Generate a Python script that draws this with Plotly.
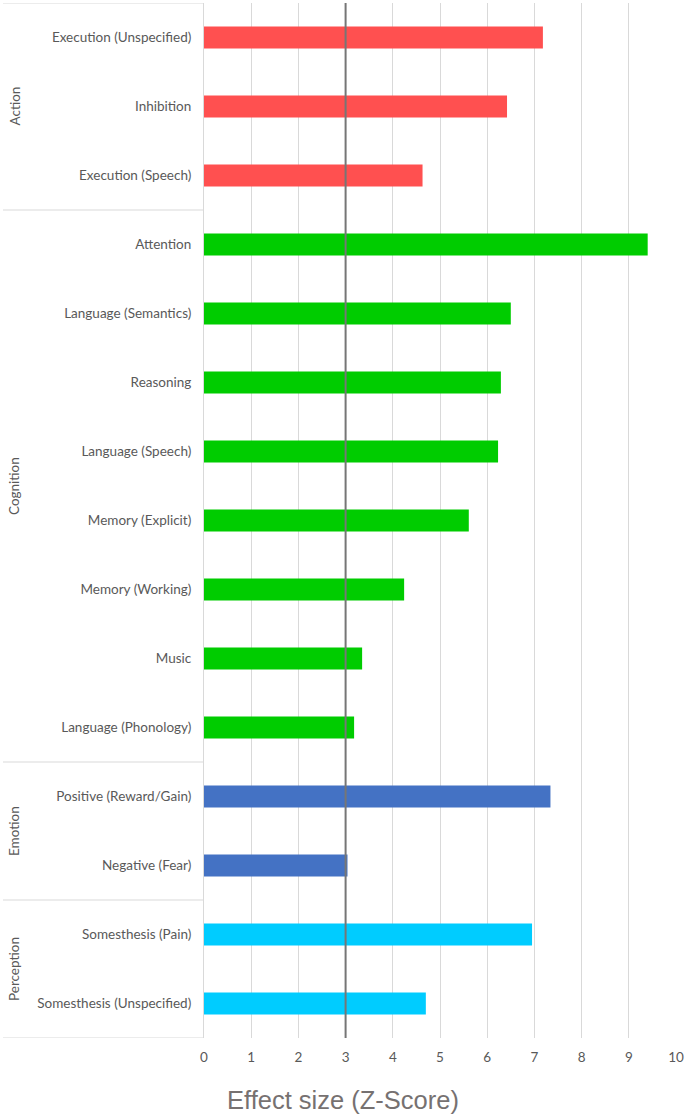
import plotly.graph_objects as go

categories = [
    "Execution (Unspecified)", "Inhibition", "Execution (Speech)",
    "Attention", "Language (Semantics)", "Reasoning", "Language (Speech)",
    "Memory (Explicit)", "Memory (Working)", "Music", "Language (Phonology)",
    "Positive (Reward/Gain)", "Negative (Fear)",
    "Somesthesis (Pain)", "Somesthesis (Unspecified)",
]
values = [7.18, 6.42, 4.63,
          9.40, 6.50, 6.29, 6.23, 5.61, 4.24, 3.35, 3.18,
          7.34, 3.04,
          6.95, 4.70]
groups = ["Action", "Cognition", "Emotion", "Perception"]
group_sizes = [3, 8, 2, 2]
group_colors = {"Action": "#FF5050", "Cognition": "#00CC00",
                "Emotion": "#4472C4", "Perception": "#00CCFF"}
threshold = 3
x_ticks = list(range(0, 11))
x_title = "Effect size (Z-Score)"

bar_groups = []
for g, n in zip(groups, group_sizes):
    bar_groups += [g] * n
colors = [group_colors[g] for g in bar_groups]
idx = list(range(len(categories)))

fig = go.Figure()
fig.add_trace(go.Bar(
    x=values, y=idx, orientation="h", marker_color=colors,
    marker_line_width=0, width=0.32, showlegend=False,
))

font_lbl = "Lato, Open Sans, sans-serif"
fig.update_layout(
    width=685, height=1116,
    margin=dict(l=204, r=9, t=3, b=78, autoexpand=False),
    plot_bgcolor="white", paper_bgcolor="white",
    xaxis=dict(range=[0, 10], tickvals=x_ticks, showgrid=True,
               gridcolor="#D9D9D9", gridwidth=1, zeroline=False,
               showline=False, ticks="", ticklabelstandoff=9,
               automargin=False,
               tickfont=dict(family=font_lbl, size=13.5, color="#595959")),
    yaxis=dict(range=[len(categories) - 0.5, -0.5], tickvals=idx,
               ticktext=categories, showgrid=False, zeroline=False,
               showline=True, linecolor="#D9D9D9", linewidth=1,
               ticks="", ticklabelstandoff=9, automargin=False,
               tickfont=dict(family=font_lbl, size=13.5, color="#595959")),
)

# threshold line
fig.add_shape(type="line", xref="x", yref="paper", x0=threshold, x1=threshold,
              y0=0, y1=1, line=dict(color="#767676", width=2), layer="above")

# group separators and labels
plot_w = 685 - 204 - 9
left_px = 3
x0_paper = (left_px - 204) / plot_w
start = -0.5
fig.add_shape(type="line", xref="paper", yref="y", x0=x0_paper, x1=0,
              y0=start, y1=start, line=dict(color="#D9D9D9", width=1))
for g, n in zip(groups, group_sizes):
    end = start + n
    fig.add_shape(type="line", xref="paper", yref="y", x0=x0_paper, x1=0,
                  y0=end, y1=end, line=dict(color="#D9D9D9", width=1))
    fig.add_annotation(xref="paper", yref="y", x=(14 - 204) / plot_w,
                       y=(start + end) / 2, text=g, showarrow=False,
                       textangle=-90, xanchor="center", yanchor="middle",
                       font=dict(family=font_lbl, size=13.5, color="#595959"))
    start = end

fig.add_annotation(xref="paper", yref="paper", x=(343 - 204) / plot_w,
                   y=-62 / 1035, xanchor="center", yanchor="middle",
                   text=x_title, showarrow=False,
                   font=dict(family="Liberation Sans, Arial, sans-serif",
                             size=25.5, color="#767171"))

fig.write_html("out.html", config={"displayModeBar": False},
               post_script="document.body.style.margin='0';document.body.style.overflow='hidden';")
